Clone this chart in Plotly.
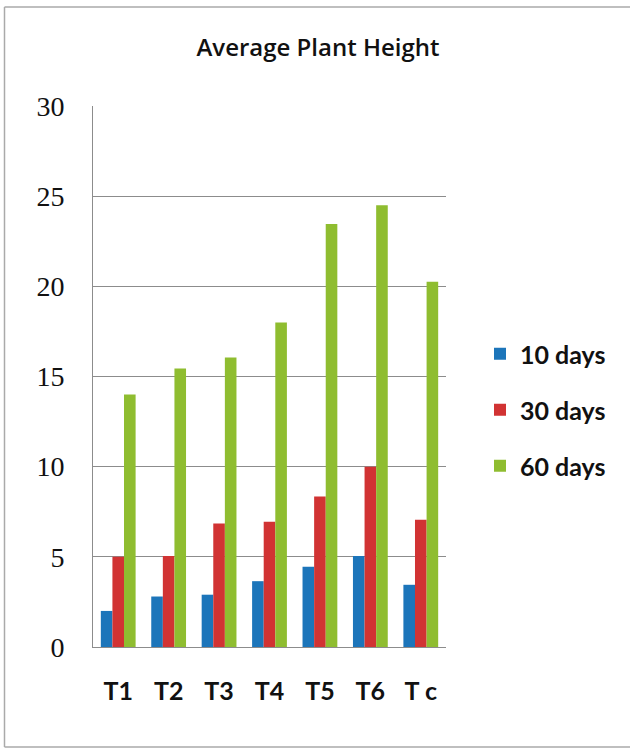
import plotly.graph_objects as go

categories = ["T1", "T2", "T3", "T4", "T5", "T6", "T c"]
days10 = [2.0, 2.8, 2.9, 3.65, 4.45, 5.05, 3.45]
days30 = [5.0, 5.05, 6.85, 6.95, 8.35, 10.0, 7.05]
days60 = [14.0, 15.45, 16.05, 18.0, 23.45, 24.5, 20.25]
series_names = ["10 days", "30 days", "60 days"]
colors = ["#1c75ba", "#d13333", "#8fbd30"]
yticks = [0, 5, 10, 15, 20, 25, 30]

fig = go.Figure()
for name, vals, col in zip(series_names, [days10, days30, days60], colors):
    fig.add_trace(go.Bar(x=categories, y=vals, name=name, marker=dict(color=col, line=dict(width=0)),
                         legendgroup=name))

L, T, R, B = 93, 106, 446, 647
PW, PH = R - L, B - T
fig.update_layout(
    width=630, height=748,
    paper_bgcolor="white", plot_bgcolor="white",
    barmode="group", bargap=0.31, bargroupgap=0,
    margin=dict(l=L, r=630 - R, t=T, b=748 - B),
    title=dict(text="Average Plant Height", x=318 / 630, xanchor="center", y=1 - 48 / 748, yanchor="middle",
               font=dict(family="Open Sans", size=24, weight=600, color="#111")),
    legend=dict(x=(480 - L) / PW, xanchor="left", y=(B - 331) / PH, yanchor="top",
                font=dict(family="Lato", size=25, weight="bold", color="#111"),
                tracegroupgap=20.5, traceorder="grouped", itemwidth=30),
    showlegend=True,
)
fig.update_yaxes(range=[0, 30], tickvals=yticks, showgrid=True, gridcolor="#8c8c8c", gridwidth=1,
                 showline=True, linecolor="#8c8c8c", linewidth=1, zeroline=False,
                 tickfont=dict(family="Liberation Serif", size=28, color="#111"), ticklabelstandoff=22)
fig.update_xaxes(showline=True, linecolor="#8c8c8c", linewidth=1,
                 tickfont=dict(family="Lato", size=25, weight="bold", color="#111"), ticklabelstandoff=22)
bx0, bx1 = (4.5 - L) / PW, (660 - L) / PW
by0, by1 = (B - 747) / PH, (B - 7) / PH
border = dict(color="#aaaaaa", width=1.5)
for (x0, y0, x1, y1) in [(bx0, by1, bx1, by1), (bx0, by0, bx0, by1), (bx0, by0, bx1, by0)]:
    fig.add_shape(type="line", xref="paper", yref="paper", x0=x0, y0=y0, x1=x1, y1=y1,
                  line=border, layer="below")

fig.write_html("out.html", config={"displayModeBar": False},
               post_script="document.body.style.margin='0'; document.body.style.overflow='hidden';")
